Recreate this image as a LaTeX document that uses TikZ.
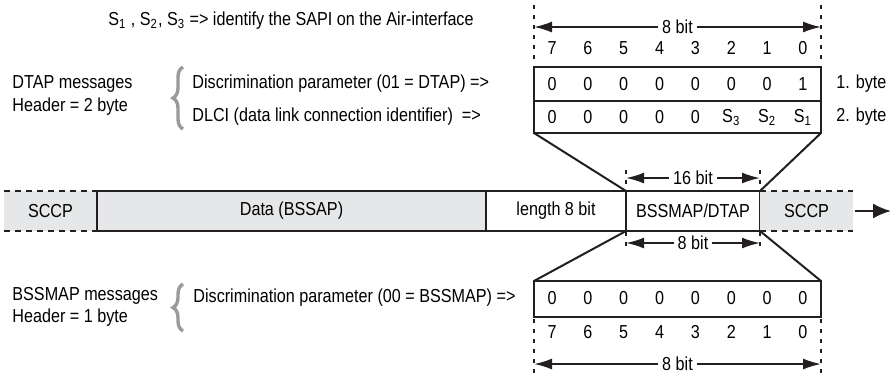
\documentclass[tikz,border=0pt]{standalone}
\usepackage{fontspec}
\setmainfont{Liberation Sans}[FakeStretch=0.86]
\usetikzlibrary{arrows.meta,decorations.pathreplacing}
\definecolor{fieldGray}{HTML}{E6E7E8}
\definecolor{braceGray}{HTML}{9A9A9A}
\definecolor{lineDark}{HTML}{231F20}
\tikzset{
  field/.style={draw=lineDark, line width=1pt, inner sep=0pt, outer sep=0pt,
    anchor=north west, minimum height=20pt},
  open field/.style={fill=fieldGray, inner sep=0pt, outer sep=0pt,
    anchor=north west, minimum height=20pt},
  byte box/.style={draw=lineDark, line width=1pt, inner sep=0pt, outer sep=0pt,
    anchor=north west, minimum width=143.5pt},
  funnel/.style={draw=lineDark, line width=1pt},
  gap line/.style={draw=lineDark, line width=1pt, dash pattern=on 3pt off 2.5pt},
  tick rule/.style={draw=lineDark, line width=1pt, dash pattern=on 2pt off 3pt},
  width arrow/.style={draw=lineDark, line width=0.9pt,
    {Latex[length=9pt,width=5.5pt]}-{Latex[length=9pt,width=5.5pt]}},
  width label/.style={fill=white, inner sep=2pt},
  bit/.style={inner sep=0pt},
  note/.style={anchor=west, inner sep=0pt},
  side brace/.style={draw=braceGray, line width=1.7pt,
    decorate, decoration={brace, amplitude=5pt}}
}
\newcommand{\bitrow}[3]{%
  \foreach \val [count=\k] in {#3}
    \node[bit] (#1\k) at ({552+(\k-1)*35.85},#2) {\val};%
}

\begin{document}
\begin{tikzpicture}[x=0.5pt, y=-0.5pt, font=\fontsize{9.4pt}{11pt}\selectfont]
\useasboundingbox (0,0) rectangle (892,377);

% Header line
\node[note] (sapiNote) at (108,21)
  {S\textsubscript{1} , S\textsubscript{2}, S\textsubscript{3} => identify the SAPI on the Air-interface};

% DTAP header: two bytes
\node[byte box, minimum height=17pt] (byteA) at (534,67) {};
\node[byte box, minimum height=16pt] (byteB) at (534,101) {};
\draw[tick rule] (534,5) -- (534,63);
\draw[tick rule] (821,5) -- (821,63);
\coordinate (topL) at (534,27);
\coordinate (topR) at (821,27);
\draw[width arrow] (topL) -- node[width label] (topBits) {8 bit} (topR);
\bitrow{topNum}{48}{7,6,5,4,3,2,1,0}
\bitrow{firstBit}{84}{0,0,0,0,0,0,0,1}
\bitrow{secondBit}{117}{0,0,0,0,0,%
  S\textsubscript{3},S\textsubscript{2},S\textsubscript{1}}
\node[note] (firstByte) at (836,84) {1. byte};
\node[note] (secondByte) at (836,117) {2. byte};

\node[note] (dtapMsg) at (12,84) {DTAP messages};
\node[note] (dtapHead) at (12,107) {Header = 2 byte};
\draw[side brace] (183,129) -- (183,67);
\node[note] (dtapDisc) at (192,84) {Discrimination parameter (01 = DTAP) =>};
\node[note] (dtapDlci) at (192,117) {DLCI (data link connection identifier)\ \ =>};

% Message on the link
\node[open field, minimum width=46.5pt] (sccpL) at (4,191) {SCCP};
\node[field, fill=fieldGray, minimum width=194.5pt] (data) at (97,191) {Data (BSSAP)};
\node[field, fill=white, minimum width=70pt] (len) at (486,191) {length 8 bit};
\node[field, fill=white, minimum width=67pt] (msg) at (626,191) {BSSMAP/DTAP};
\node[open field, minimum width=46.5pt] (sccpR) at (760,191) {SCCP};
\draw[gap line] (sccpL.north west) -- (sccpL.north east);
\draw[gap line] (sccpL.south west) -- (sccpL.south east);
\draw[gap line] (sccpR.north west) -- (sccpR.north east);
\draw[gap line] (sccpR.south west) -- (sccpR.south east);
\draw[field] (data.north west) rectangle (data.south east);
\coordinate (linkEnd) at (891,211);
\draw[draw=lineDark, line width=1pt, -{Latex[length=9pt,width=7.5pt]}]
  ([xshift=1pt]sccpR.east) -- (linkEnd);

\draw[tick rule] (626,170) -- (626,190);
\draw[tick rule] (760,170) -- (760,190);
\draw[tick rule] (626,232) -- (626,252);
\draw[tick rule] (760,232) -- (760,252);
\coordinate (midTopL) at (626,178);
\coordinate (midTopR) at (760,178);
\draw[width arrow] (midTopL) -- node[width label] (sixteenBits) {16 bit} (midTopR);
\coordinate (midBotL) at (626,243);
\coordinate (midBotR) at (760,243);
\draw[width arrow] (midBotL) -- node[width label] (eightBits) {8 bit} (midBotR);

% BSSMAP header: one byte
\node[byte box, minimum height=18pt] (byteC) at (534,281) {};
\draw[funnel] (byteB.south west) -- (msg.north west);
\draw[funnel] (byteB.south east) -- (msg.north east);
\draw[funnel] (msg.south west) -- (byteC.north west);
\draw[funnel] (msg.south east) -- (byteC.north east);
\bitrow{bssBit}{298}{0,0,0,0,0,0,0,0}
\bitrow{botNum}{332}{7,6,5,4,3,2,1,0}
\draw[tick rule] (534,319) -- (534,377);
\draw[tick rule] (821,319) -- (821,377);
\coordinate (botL) at (534,364);
\coordinate (botR) at (821,364);
\draw[width arrow] (botL) -- node[width label] (botBits) {8 bit} (botR);

\node[note] (bssMsg) at (12,296) {BSSMAP messages};
\node[note] (bssHead) at (12,318) {Header = 1 byte};
\draw[side brace] (183,331) -- (183,284);
\node[note] (bssDisc) at (193,298) {Discrimination parameter (00 = BSSMAP) =>};

\end{tikzpicture}
\end{document}
